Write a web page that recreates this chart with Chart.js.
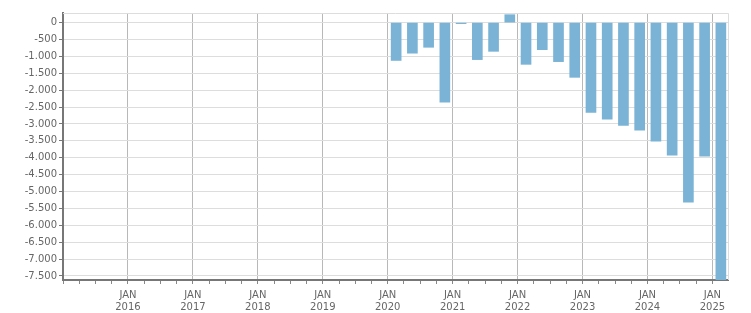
<!DOCTYPE html>
<html>
<head>
<meta charset="utf-8">
<script src="https://cdn.jsdelivr.net/npm/chart.js@4/dist/chart.umd.min.js"></script>
<style>
    html, body { margin: 0; padding: 0; background: #fff; }
    #wrap { width: 751px; height: 313px; }
</style>
</head>
<body>
<div id="wrap"><canvas id="bal-chart"></canvas></div>
<script>
// quarterly values, Q1 2020 .. Q1 2025
const quarters = [
    "2020-Q1", "2020-Q2", "2020-Q3", "2020-Q4",
    "2021-Q1", "2021-Q2", "2021-Q3", "2021-Q4",
    "2022-Q1", "2022-Q2", "2022-Q3", "2022-Q4",
    "2023-Q1", "2023-Q2", "2023-Q3", "2023-Q4",
    "2024-Q1", "2024-Q2", "2024-Q3", "2024-Q4",
    "2025-Q1"
];
const values = [
    -1120, -905, -730, -2355,
    -30, -1095, -850, 235,
    -1235, -800, -1155, -1620,
    -2660, -2860, -3040, -3185,
    -3510, -3925, -5315, -3955,
    -7700
];
const yearLabels = ["2016", "2017", "2018", "2019", "2020", "2021", "2022", "2023", "2024", "2025"];
const yTicks = [0, -500, -1000, -1500, -2000, -2500, -3000, -3500, -4000,
    -4500, -5000, -5500, -6000, -6500, -7000, -7500];

function quarterPos(q) {
    const [y, n] = q.split("-Q");
    return Number(y) + (Number(n) - 1) / 4 + 0.13;
}

const fmt = new Intl.NumberFormat("de-DE");

const frame = {
    id: "frame",
    beforeDatasetsDraw(chart) {
        const a = chart.chartArea;
        const ctx = chart.ctx;
        ctx.save();
        ctx.strokeStyle = "#dddddd";
        ctx.lineWidth = 1;
        ctx.beginPath();
        ctx.moveTo(a.left, a.top + 0.5);
        ctx.lineTo(a.right + 0.5, a.top + 0.5);
        ctx.lineTo(a.right + 0.5, a.bottom);
        ctx.stroke();
        ctx.restore();
    }
};

function isYear(v) {
    return Math.abs(v - Math.round(v)) < 1e-6;
}

new Chart(document.getElementById("bal-chart").getContext("2d"), {
    type: "bar",
    data: {
        datasets: [{
            data: quarters.map((q, i) => ({ x: quarterPos(q), y: values[i] })),
            backgroundColor: "#7ab3d5",
            barThickness: 10
        }]
    },
    options: {
        responsive: true,
        maintainAspectRatio: false,
        animation: false,
        layout: { padding: { top: 13, right: 23, left: 0, bottom: 0 } },
        plugins: {
            legend: { display: false },
            tooltip: { enabled: false }
        },
        scales: {
            x: {
                type: "linear",
                min: 2015,
                max: 2025.24,
                offset: false,
                afterFit(scale) { scale.height = 33; },
                border: { color: "#777777", width: 2 },
                grid: {
                    offset: false,
                    color: c => (c.tick && isYear(c.tick.value)) ? "#b8b8b8" : "rgba(0,0,0,0)",
                    lineWidth: 1,
                    tickColor: "#888888",
                    tickLength: 4
                },
                ticks: {
                    stepSize: 0.25,
                    includeBounds: false,
                    autoSkip: false,
                    maxRotation: 0,
                    padding: 5,
                    color: "#666666",
                    font: { family: "DejaVu Sans", size: 10, lineHeight: 1.25 },
                    callback: v => {
                        if (!isYear(v)) return "";
                        const yr = String(Math.round(v));
                        return yearLabels.includes(yr) ? ["JAN", yr] : "";
                    }
                }
            },
            y: {
                min: -7620,
                max: 285,
                afterFit(scale) { scale.width = 63; },
                afterBuildTicks(scale) { scale.ticks = yTicks.map(v => ({ value: v })); },
                border: { color: "#777777", width: 2 },
                grid: {
                    color: "#dddddd",
                    tickColor: "#777777",
                    tickLength: 4
                },
                ticks: {
                    padding: 2,
                    color: "#666666",
                    font: { family: "DejaVu Sans", size: 10 },
                    callback: v => fmt.format(v)
                }
            }
        }
    },
    plugins: [frame]
});
</script>
</body>
</html>
